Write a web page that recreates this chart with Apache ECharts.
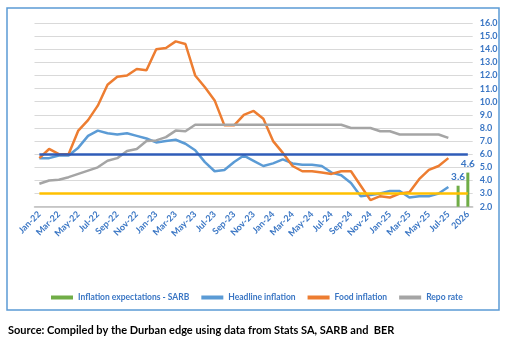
<!DOCTYPE html>
<html>
<head>
<meta charset="utf-8">
<script src="https://cdn.jsdelivr.net/npm/echarts@6/dist/echarts.min.js"></script>
<style>
html,body{margin:0;padding:0;background:#fff;}
#chart{width:509px;height:337px;}
</style>
</head>
<body>
<div id="chart"></div>
<script>
var months = ["Jan-22","Feb-22","Mar-22","Apr-22","May-22","Jun-22","Jul-22","Aug-22","Sep-22","Oct-22","Nov-22","Dec-22",
"Jan-23","Feb-23","Mar-23","Apr-23","May-23","Jun-23","Jul-23","Aug-23","Sep-23","Oct-23","Nov-23","Dec-23",
"Jan-24","Feb-24","Mar-24","Apr-24","May-24","Jun-24","Jul-24","Aug-24","Sep-24","Oct-24","Nov-24","Dec-24",
"Jan-25","Feb-25","Mar-25","Apr-25","May-25","Jun-25","Jul-25"];
var expCategories = ["2025","2026"];
var categories = months.concat(expCategories);

var headline = [5.7,5.7,5.9,5.9,6.5,7.4,7.8,7.6,7.5,7.6,7.4,7.2,
6.9,7.0,7.1,6.8,6.3,5.4,4.7,4.8,5.4,5.9,5.5,5.1,
5.3,5.6,5.3,5.2,5.2,5.1,4.6,4.4,3.8,2.8,2.9,3.0,
3.2,3.2,2.7,2.8,2.8,3.0,3.5];
var food = [5.7,6.4,6.0,6.0,7.8,8.6,9.7,11.3,11.9,12.0,12.5,12.4,
14.0,14.1,14.6,14.4,12.0,11.1,10.1,8.2,8.2,9.0,9.3,8.7,
7.0,6.1,5.1,4.7,4.7,4.6,4.5,4.7,4.7,3.6,2.5,2.8,
2.7,3.0,3.1,4.1,4.8,5.1,5.7];
var repo = [3.75,4.0,4.05,4.25,4.5,4.75,5.0,5.5,5.7,6.25,6.4,7.0,
7.05,7.3,7.8,7.75,8.25,8.25,8.25,8.25,8.25,8.25,8.25,8.25,
8.25,8.25,8.25,8.25,8.25,8.25,8.25,8.25,8.0,8.0,8.0,7.75,
7.75,7.5,7.5,7.5,7.5,7.5,7.25];
var expectations = [3.6,4.6];
var upperTarget = 6.0;
var lowerTarget = 3.0;
var yTicks = {min:2, max:16, interval:1};

var barData = categories.map(function(c){
  var k = expCategories.indexOf(c);
  return k >= 0 ? expectations[k] : null;
});

var blueText = '#3A76C4';
var font = 'Lato';

var chart = echarts.init(document.getElementById('chart'));
chart.setOption({
  animation:false,
  backgroundColor:'#fff',
  textStyle:{fontFamily:font},
  grid:{left:34.5, right:36.3, top:23, bottom:130.3},
  xAxis:{
    type:'category', data:categories, boundaryGap:true,
    axisLine:{lineStyle:{color:'#BFBFBF', width:1.5}},
    axisTick:{show:false},
    axisLabel:{interval:1, rotate:45, margin:6, color:blueText, fontWeight:'bold', fontSize:9, fontFamily:font}
  },
  yAxis:{
    type:'value', position:'right', min:yTicks.min, max:yTicks.max, interval:yTicks.interval,
    axisLine:{show:false}, axisTick:{show:false},
    splitLine:{lineStyle:{color:'#D9D9D9', width:1}},
    axisLabel:{margin:7, color:blueText, fontWeight:'bold', fontSize:9, fontFamily:font,
      formatter:function(v){return v.toFixed(1);}}
  },
  legend:{
    left:46, top:288, itemWidth:22, itemHeight:4, itemGap:12, icon:'rect',
    textStyle:{color:blueText, fontWeight:'bold', fontSize:8.5, fontFamily:font},
    data:['Inflation expectations - SARB','Headline inflation','Food inflation','Repo rate']
  },
  graphic:[
    {type:'rect', shape:{x:7, y:8, width:492, height:302}, style:{fill:'none', stroke:'#5B9BD5', lineWidth:1.5}, silent:true},
    {type:'text', left:8, top:325, style:{text:'Source: Compiled by the Durban edge using data from Stats SA, SARB and  BER', fill:'#000', font:'bold 11px Lato'}}
  ],
  series:[
    {name:'Inflation expectations - SARB', type:'bar', data:barData, barWidth:3, itemStyle:{color:'#70AD47'},
      label:{show:true, position:'top', distance:4, color:blueText, fontWeight:'bold', fontSize:10, fontFamily:font,
        formatter:function(p){return p.value.toFixed(1);}}},
    {name:'Headline inflation', type:'line', data:headline, symbol:'none', lineStyle:{color:'#5B9BD5', width:2.5}, itemStyle:{color:'#5B9BD5'}},
    {name:'Food inflation', type:'line', data:food, symbol:'none', lineStyle:{color:'#ED7D31', width:2.5}, itemStyle:{color:'#ED7D31'}},
    {name:'Repo rate', type:'line', data:repo, symbol:'none', lineStyle:{color:'#A5A5A5', width:2.5}, itemStyle:{color:'#A5A5A5'}},
    {name:'bounds', type:'line', data:[], z:5,
      markLine:{silent:true, symbol:'none', label:{show:false},
        data:[
          [{coord:[categories[0], upperTarget], lineStyle:{color:'#2F5CB8', width:2.5, type:'solid'}},{coord:[categories[categories.length-1], upperTarget]}],
          [{coord:[categories[0], lowerTarget], lineStyle:{color:'#FFC000', width:2.5, type:'solid'}},{coord:[categories[categories.length-1], lowerTarget]}]
        ]}}
  ]
});
</script>
</body>
</html>
